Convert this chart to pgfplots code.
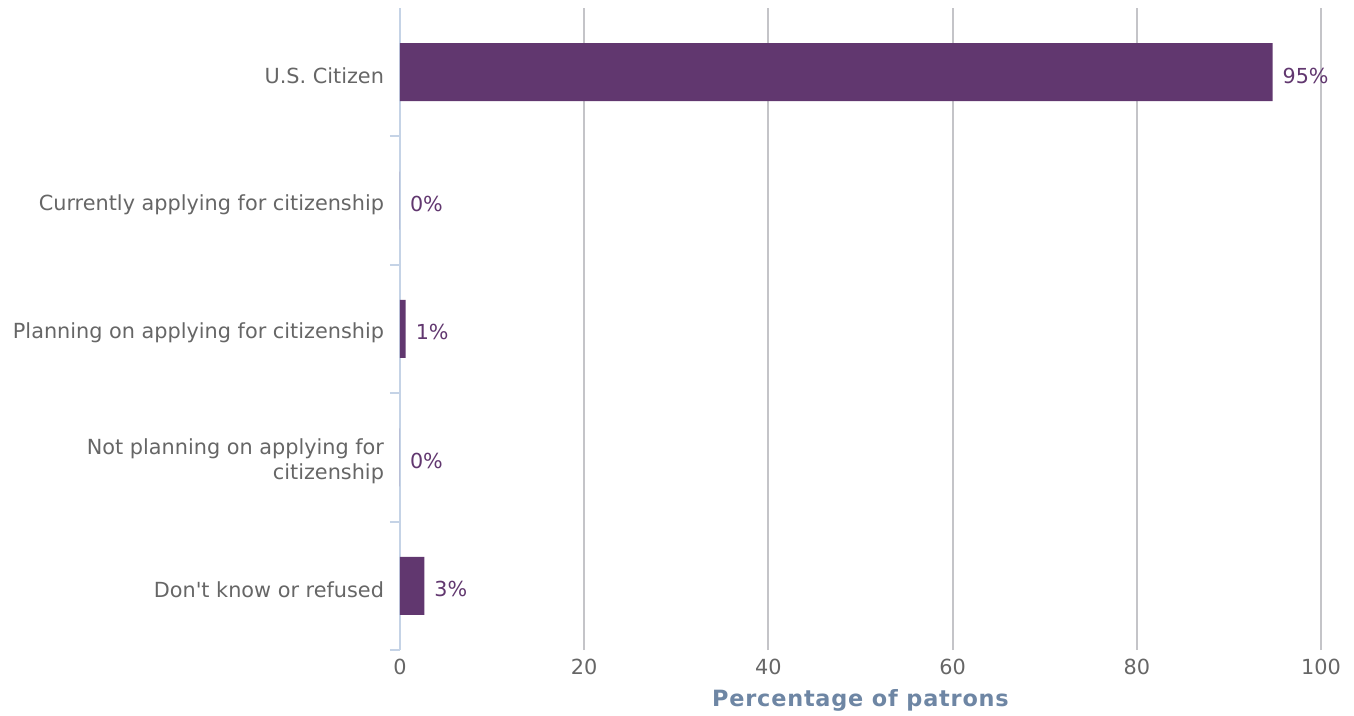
\documentclass[border=0pt]{standalone}
\usepackage{pgfplots}
\pgfplotsset{compat=1.18}
\usepackage{pgfplotstable}
\usepackage{fontspec}
\setmainfont{DejaVu Sans}
\definecolor{barpurple}{HTML}{61376F}
\definecolor{ticktext}{HTML}{666666}
\definecolor{axisblue}{HTML}{C5D3E6}
\definecolor{gridgray}{HTML}{C4C4C8}
\definecolor{labelblue}{HTML}{6E86A4}
\pgfplotstableread{
y val meta
4 94.75 95
3 0 0
2 0.62 1
1 0 0
0 2.64 3
}\mydata
\begin{document}
\begin{tikzpicture}[x=1pt,y=1pt]
\begin{axis}[
  scale only axis,
  width=690.75pt, height=481.5pt,
  xmin=0, xmax=100,
  ymin=-0.5, ymax=4.5,
  axis y line*=left, axis x line*=bottom,
  x axis line style={draw=none},
  y axis line style={draw=axisblue, line width=1.5pt},
  xtick={0,20,40,60,80,100},
  xmajorgrids,
  major x grid style={draw=gridgray, line width=1.5pt},
  x tick style={draw=none},
  major tick length=0pt,
  ytick={0,1,2,3,4},
  yticklabels={Don\textquotesingle t know or refused, {Not planning on applying for\\citizenship}, Planning on applying for citizenship, Currently applying for citizenship, U.S. Citizen},
  minor ytick={-0.5,0.5,1.5,2.5,3.5},
  minor tick length=7.5pt,
  tick align=outside,
  minor y tick style={draw=axisblue, line width=1.5pt},
  /pgf/number format/assume math mode=true,
  ticklabel style={font=\fontsize{15.6}{18.75}\selectfont, text=ticktext},
  yticklabel style={align=right, xshift=-8.5pt, yshift=-3pt},
  xticklabel style={yshift=-3pt},
  xlabel={Percentage of patrons},
  xlabel style={font=\fontsize{16.8}{20}\selectfont\bfseries\addfontfeatures{LetterSpace=3.5}, text=labelblue, yshift=-4.5pt},
  xbar, bar width=43.5pt,
  point meta=explicit,
  nodes near coords={\pgfmathprintnumber{\pgfplotspointmeta}\%},
  nodes near coords style={font=\fontsize{15.5}{18}\selectfont, text=barpurple, anchor=west, xshift=4pt, yshift=-2.5pt},
  clip=false,
]
\addplot[fill=barpurple, draw=none] table[x=val, y=y, meta=meta] {\mydata};
\coordinate (sw) at (rel axis cs:0,0);
\coordinate (ne) at (rel axis cs:1,1);
\end{axis}
\pgfresetboundingbox
\path ([shift={(-300pt,-49.5pt)}]sw) rectangle ([shift={(24.75pt,6pt)}]ne);
\end{tikzpicture}
\end{document}
